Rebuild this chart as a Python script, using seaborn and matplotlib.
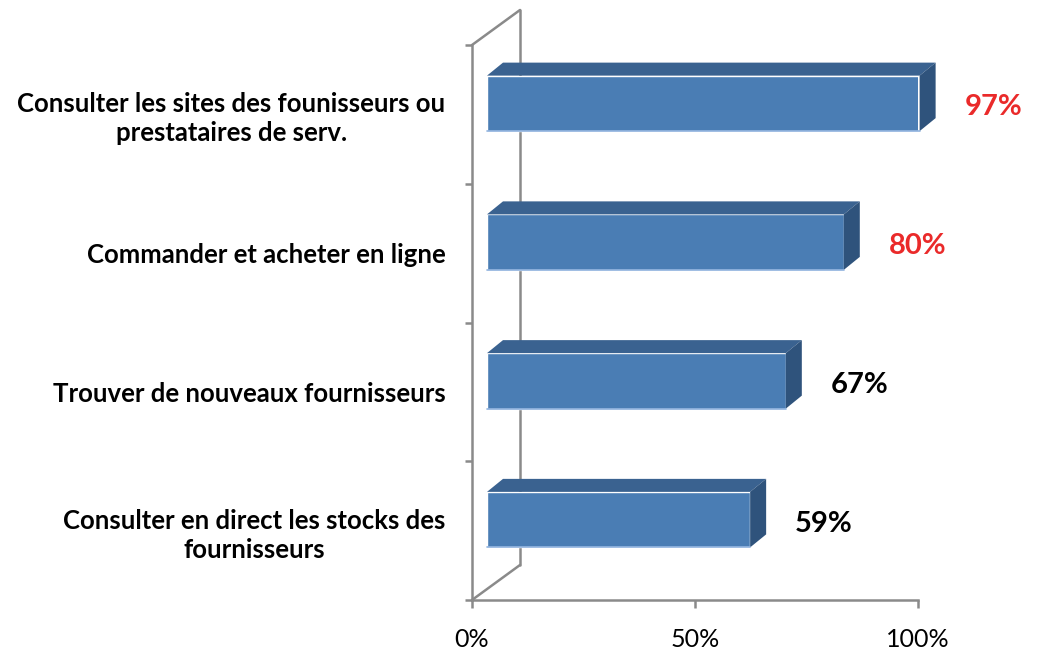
"""Horizontal 3D-style bar chart of online purchasing uses"""

import matplotlib

matplotlib.use("Agg")
import matplotlib.pyplot as plt
import seaborn as sb
from matplotlib.patches import Polygon

categories = [
    "Consulter les sites des founisseurs ou\nprestataires de serv.",
    "Commander et acheter en ligne",
    "Trouver de nouveaux fournisseurs",
    "Consulter en direct les stocks des\nfournisseurs",
]
values = [97, 80, 67, 59]
value_labels = ["97%", "80%", "67%", "59%"]
label_colors = ["#ea2a2a", "#ea2a2a", "black", "black"]
x_ticks = [0, 50, 100]
x_tick_labels = ["0%", "50%", "100%"]

FRONT = "#4a7db4"
TOP = "#3a6290"
SIDE = "#2f537c"
GREY = "#8a8a8a"

sb.set_style("white")
plt.rcParams["font.family"] = ["Lato", "DejaVu Sans"]
plt.rcParams["text.color"] = "black"
plt.rcParams["xtick.color"] = "black"
plt.rcParams["ytick.color"] = "black"

W, H = 1041, 654
fig = plt.figure(figsize=(W / 100, H / 100), dpi=100)
ax = fig.add_axes([472 / W, 54 / H, 446 / W, 555 / H])

sb.barplot(x=values, y=categories, orient="h", color=FRONT, saturation=1, width=0.4, ax=ax)
ax.set_xlim(0, 100)
ax.set_ylim(3.5, -0.5)

# pixel offsets -> data offsets (y axis inverted, so image-down is +y)
ux = 446 / 100
uy = 555 / 4
fx, fy = 15 / ux, -11 / uy  # bars sit a bit behind the front wall
dx, dy = 16 / ux, -13 / uy  # bar depth
bx, by = 48 / ux, -35 / uy  # back wall

for i, patch in enumerate(ax.patches):
    patch.set_x(patch.get_x() + fx)
    patch.set_y(patch.get_y() + fy)
    patch.set_zorder(3)
    x0 = patch.get_x()
    x1 = x0 + patch.get_width()
    y0 = patch.get_y()
    y1 = y0 + patch.get_height()
    top = Polygon([(x0, y0), (x1, y0), (x1 + dx, y0 + dy), (x0 + dx, y0 + dy)], closed=True,
                  facecolor=TOP, edgecolor="none", zorder=3, clip_on=False)
    side = Polygon([(x1, y0), (x1 + dx, y0 + dy), (x1 + dx, y1 + dy), (x1, y1)], closed=True,
                   facecolor=SIDE, edgecolor="none", zorder=3, clip_on=False)
    ax.add_patch(top)
    ax.add_patch(side)
    ax.plot([x0, x1], [y1, y1], color="#8fb2de", lw=1.2, zorder=4, clip_on=False)
    ax.text(x1 + dx + 6.5, i + fy + 4 / uy, value_labels[i], color=label_colors[i], fontsize=21,
            fontweight="bold", ha="left", va="center", clip_on=False)

# back wall of the 3D frame
frame = dict(color=GREY, lw=1.8, zorder=1, clip_on=False)
ax.plot([bx, bx], [-0.5 + by, 3.5 + by], **frame)
ax.plot([0, bx], [-0.5, -0.5 + by], **frame)
ax.plot([0, bx], [3.5, 3.5 + by], **frame)

sb.despine(ax=ax)
for side_name in ["left", "bottom"]:
    ax.spines[side_name].set_color(GREY)
    ax.spines[side_name].set_linewidth(1.8)

ax.set_yticks([-0.5, 0.5, 1.5, 2.5, 3.5], minor=True)
ax.tick_params(axis="y", which="minor", left=True, length=5, width=1.8, color=GREY, direction="out")
ax.tick_params(axis="y", which="major", length=0, pad=19)
for lbl in ax.get_yticklabels():
    lbl.set_fontweight("bold")
    lbl.set_fontsize(18.5)
    lbl.set_color("black")
    lbl.set_multialignment("center")
    lbl.set_linespacing(1.25)

ax.set_xticks(x_ticks)
ax.set_xticklabels(x_tick_labels, fontsize=18)
ax.tick_params(axis="x", bottom=True, length=6, width=1.8, color=GREY, labelcolor="black",
               direction="out", pad=14)
ax.set_xlabel("")
ax.set_ylabel("")

fig.savefig("out.png", dpi=100)
